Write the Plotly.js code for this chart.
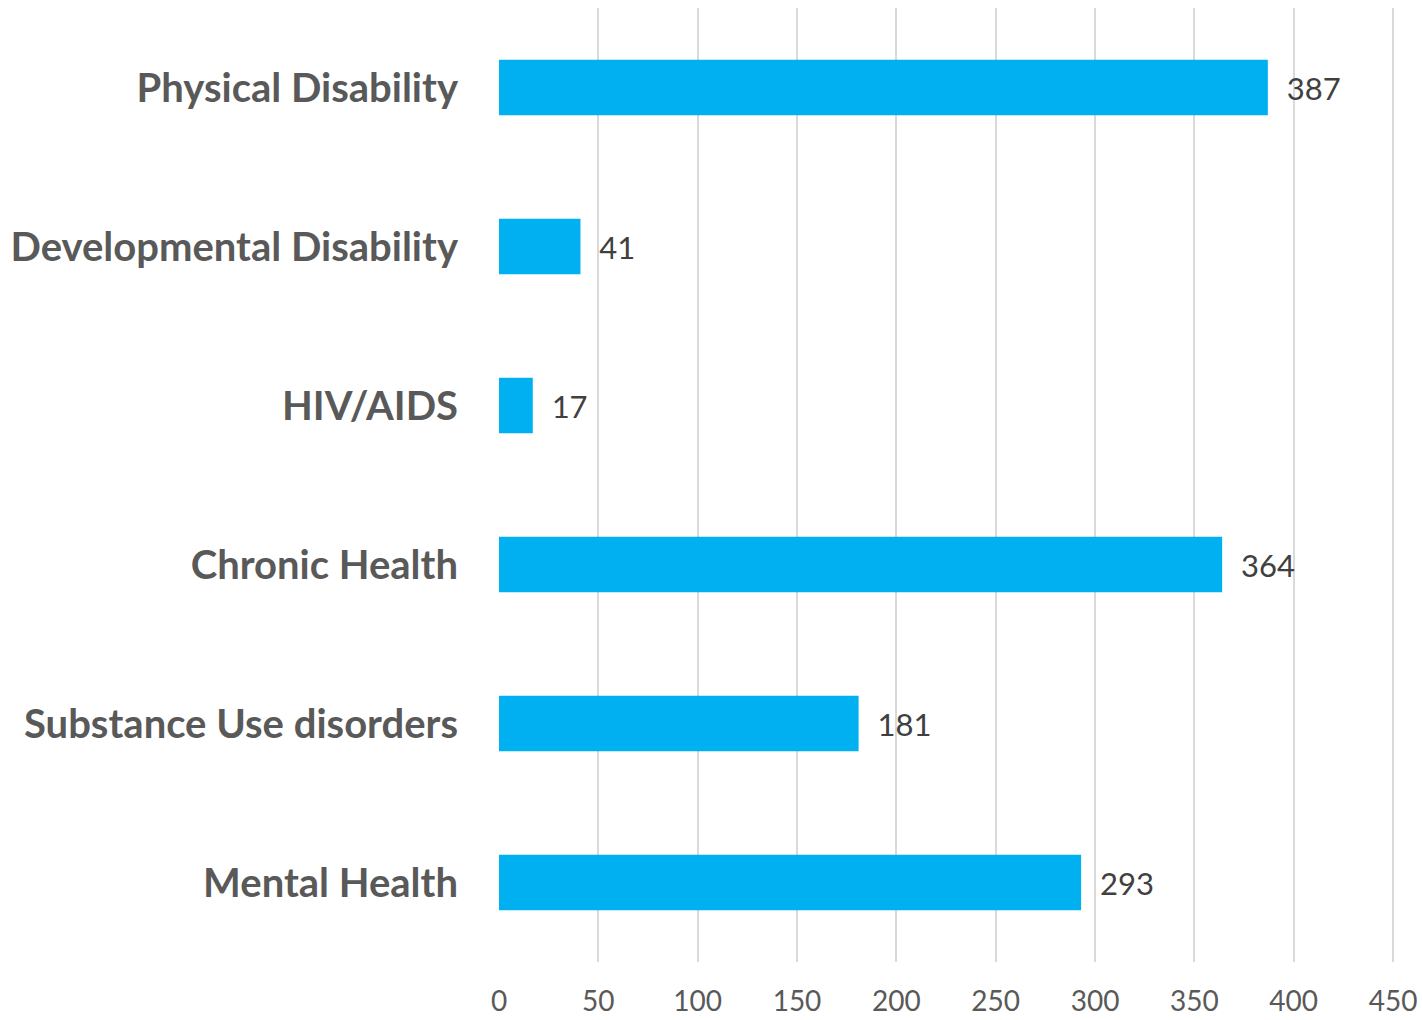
<!DOCTYPE html>
<html>
<head>
<meta charset="utf-8">
<script src="https://cdn.plot.ly/plotly-3.0.1.min.js"></script>
<style>html,body{margin:0;padding:0;background:#fff;}#chart{width:1422px;height:1020px;}</style>
</head>
<body>
<div id="chart"></div>
<script>
const categories = ["Mental Health", "Substance Use disorders", "Chronic Health", "HIV/AIDS", "Developmental Disability", "Physical Disability"];
const counts = [293, 181, 364, 17, 41, 387];
const xTicks = [0, 50, 100, 150, 200, 250, 300, 350, 400, 450];

const trace = {
  type: "bar",
  orientation: "h",
  y: categories,
  x: counts,
  width: 0.35,
  marker: {color: "#00B0F0"},
  text: counts.map(v => "  " + v),
  textposition: "outside",
  textfont: {family: "Lato, 'Open Sans', sans-serif", size: 31, color: "#404040"},
  cliponaxis: false,
  hoverinfo: "none"
};

const layout = {
  width: 1422,
  height: 1020,
  margin: {l: 499, r: 27, t: 8, b: 58},
  paper_bgcolor: "#ffffff",
  plot_bgcolor: "#ffffff",
  showlegend: false,
  bargap: 0.65,
  xaxis: {
    range: [0, 451],
    tickvals: xTicks,
    ticktext: xTicks.map(String),
    showgrid: true,
    gridcolor: "#d9d9d9",
    gridwidth: 2,
    zeroline: false,
    showline: false,
    ticks: "",
    ticklabelstandoff: 20,
    tickfont: {family: "Lato, 'Open Sans', sans-serif", size: 28, color: "#595959"},
    fixedrange: true
  },
  yaxis: {
    categoryorder: "array",
    categoryarray: categories,
    showgrid: false,
    zeroline: false,
    showline: false,
    ticks: "",
    ticklabelstandoff: 40,
    tickfont: {family: "Lato, 'Open Sans', sans-serif", size: 40, color: "#595959", weight: "bold"},
    fixedrange: true
  }
};

Plotly.newPlot("chart", [trace], layout, {displayModeBar: false, staticPlot: true});
</script>
</body>
</html>
